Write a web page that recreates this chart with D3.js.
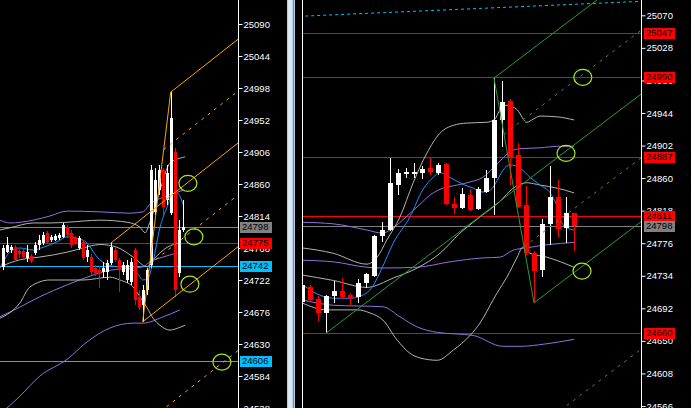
<!DOCTYPE html>
<html><head><meta charset="utf-8">
<script src="https://cdn.jsdelivr.net/npm/d3@7"></script>
<style>body{margin:0;background:#000;overflow:hidden}svg{display:block}</style>
</head><body><svg id="c" width="691" height="408"></svg>
<script>
// ---------- DATA ----------
const leftTicks = [25090,25044,24998,24952,24906,24860,24814,24768,24722,24676,24630,24584,24538];
const rightTicks = [25070,25028,24986,24944,24902,24860,24818,24776,24734,24692,24650,24608,24566];

// [open, high, low, close]
const leftOHLC = [
[24741,24772,24736,24768],[24762,24784,24761,24772],[24765,24772,24761,24769],[24769,24772,24748,24751],
[24764,24767,24754,24759],[24764,24768,24752,24755],[24754,24772,24748,24762],[24757,24759,24746,24749],
[24761,24777,24758,24772],[24772,24787,24765,24780],[24775,24791,24772,24787],[24790,24792,24774,24777],
[24780,24787,24777,24784],[24780,24788,24778,24785],[24782,24790,24780,24787],[24784,24804,24782,24801],
[24798,24801,24782,24787],[24790,24794,24768,24772],[24782,24785,24772,24775],[24768,24785,24765,24782],
[24777,24780,24751,24754],[24755,24772,24748,24765],[24755,24759,24729,24734],[24739,24744,24728,24732],
[24736,24742,24711,24731],[24734,24748,24725,24739],[24734,24751,24722,24746],[24746,24775,24744,24769],
[24765,24768,24748,24751],[24751,24754,24705,24736],[24734,24748,24729,24744],[24722,24751,24718,24744],
[24719,24754,24715,24748],[24765,24768,24686,24693],[24698,24708,24679,24683],[24686,24715,24662,24708],
[24708,24739,24700,24736],[24744,24887,24739,24880],[24820,24883,24815,24866],[24851,24887,24844,24880],
[24880,24883,24815,24827],[24837,24887,24830,24876],[24818,24992,24815,24955],[24906,24912,24698,24707],
[24732,24808,24726,24794],[24794,24837,24791,24798]
];
const rightOHLC = [
[24700,24725,24695,24722],[24720,24722,24701,24703],[24704,24708,24676,24686],[24686,24709,24660,24708],
[24708,24727,24699,24714],[24714,24731,24704,24707],[24709,24712,24695,24705],[24707,24730,24699,24725],
[24725,24737,24718,24736],[24734,24787,24732,24785],[24785,24803,24777,24793],[24793,24886,24792,24854],
[24851,24872,24838,24867],[24865,24873,24860,24868],[24865,24879,24860,24868],[24867,24876,24859,24872],
[24873,24886,24864,24868],[24867,24879,24864,24877],[24878,24879,24825,24827],[24827,24836,24814,24821],
[24821,24847,24820,24839],[24838,24846,24818,24819],[24820,24849,24819,24846],[24842,24870,24841,24860],
[24860,24989,24812,24935],[24935,24985,24900,24958],[24959,24962,24851,24887],[24890,24905,24822,24823],
[24825,24850,24761,24763],[24763,24766,24699,24740],[24741,24807,24732,24801],[24801,24876,24774,24836],
[24836,24858,24784,24794],[24796,24836,24776,24815],[24815,24815,24766,24798]
];

// indicator lines: [bar index, price]
const leftMA = [[-0.7,24739],[1.8,24762],[4.3,24768],[7.6,24765],[10.1,24769],[13.6,24777],[16.1,24784],[18.6,24782],[21.1,24775],[23.6,24755],[26.1,24744],[28.6,24741],[31.1,24739],[33.6,24732],[35.1,24722],[36.3,24724],[37.6,24749],[39.3,24797],[41.1,24827],[42.6,24846],[43.8,24846],[45.1,24830]];
const leftPurpleUp = [[-0.7,24808],[1.8,24804],[7.6,24808],[11.8,24814],[16.1,24821],[24.3,24820],[31.8,24818],[35.1,24820],[36.8,24831],[40.1,24841],[43.6,24848],[45.1,24851]];
const leftPurpleMid = [[-0.7,24669],[4.3,24683],[9.3,24698],[16.1,24715],[21.1,24726],[26.8,24736],[32.6,24739],[35.1,24741],[36.8,24748],[40.1,24755],[44.3,24762]];
const leftPurpleLow = [[-0.7,24529],[4.3,24555],[9.3,24584],[16.1,24608],[21.1,24633],[26.8,24653],[32.6,24660],[35.1,24660],[40.1,24669],[44.3,24679]];
const leftGrayUp = [[-0.7,24794],[1.8,24797],[7.6,24804],[11.8,24804],[16.1,24805],[24.3,24808],[31.1,24805],[34.3,24798],[35.6,24790],[36.8,24805],[39.3,24851],[41.8,24890],[44.3,24897],[45.6,24899]];
const leftGrayMid = [[-0.7,24741],[4.3,24751],[9.3,24755],[16.1,24762],[20.1,24768],[24.3,24773],[28.6,24769],[32.6,24755],[36.1,24741],[37.6,24751],[41.1,24769],[44.3,24775]];
const leftGrayLow = [[-0.7,24667],[4.3,24689],[6.8,24712],[11.8,24722],[20.1,24722],[26.8,24726],[29.3,24722],[32.6,24712],[34.3,24698],[36.1,24682],[37.6,24667],[39.3,24657],[41.8,24650],[44.3,24654],[45.6,24657]];

const rightMA = [[0,24723],[2,24710],[4,24705],[6,24705],[7.6,24709],[8.75,24719],[10,24744],[11.4,24776],[13.5,24810],[15.1,24845],[16.4,24861],[17.25,24867],[18.5,24861],[20.1,24852],[21.4,24847],[22.6,24842],[23.6,24845],[24.4,24857],[25.1,24870],[26,24877],[27.25,24873],[28.5,24861],[29.75,24851],[31,24841],[31.9,24823],[32.5,24802],[33.1,24796],[34,24793]];
const rightPurpleUp = [[0,24803],[3.9,24801],[8.1,24793],[10.1,24789],[11,24793],[12.6,24806],[14.4,24823],[16.4,24841],[17.6,24847],[19.4,24851],[21,24855],[22.6,24861],[23.9,24873],[24.75,24882],[26,24894],[27.25,24898],[29.75,24899],[31.9,24901],[34,24901]];
const rightPurpleMid = [[0,24754],[3.9,24752],[8.1,24745],[10.1,24744],[14.4,24745],[18.5,24752],[22.6,24757],[24.75,24758],[26.4,24767],[28.1,24770],[30.6,24774],[34,24777]];
const rightPurpleLow = [[0,24703],[3.9,24696],[10.1,24694],[12.25,24681],[14.4,24668],[16.9,24661],[21.4,24657],[25.1,24643],[27.25,24643],[30.4,24646],[34,24652]];
const rightGrayUp = [[0,24770],[3.9,24763],[8.1,24749],[9.4,24758],[10.6,24780],[12.25,24810],[13.9,24854],[15.6,24892],[17.25,24918],[18.9,24928],[20.6,24931],[23.1,24932],[24.1,24936],[24.75,24948],[25.6,24954],[26.9,24948],[28.1,24932],[28.9,24936],[29.75,24940],[31.9,24939],[34,24935]];
const rightGrayMid = [[0,24735],[3.9,24728],[8.1,24719],[11.4,24731],[14.4,24744],[17.25,24763],[19.75,24789],[22.25,24810],[24.75,24830],[26.4,24847],[28.1,24854],[29.75,24851],[31.9,24847],[34,24841]];
const rightGrayLow = [[0,24699],[3.1,24690],[6.9,24690],[8.5,24686],[10.1,24677],[11.9,24651],[13.5,24634],[14.75,24628],[16.9,24625],[18.9,24638],[21,24657],[22.25,24673],[23.9,24703],[24.4,24712],[25.6,24732],[26.9,24758],[27.6,24771],[28.5,24763],[30.6,24758],[34,24745]];

// horizontal levels
const leftLevels = [24798, 24775, 24742, 24606];
const leftLevelKinds = ["bid","res","sup","sup"];
const rightLevels = [25047, 24990, 24887, 24811, 24660, 24798];
const rightLevelKinds = ["res","res","res","res","res","bid"];

// pitchfork pivots [bar index, price]
const leftFork = [[27,24775],[35,24662],[42,24992]];
const rightFork = [[3,24660],[24,24989],[29,24699]];

// marker ellipses [bar index, price]
const leftMarks = [[46.3,24861],[47.8,24784],[46.8,24716],[54.8,24604]];
const rightMarks = [[35.1,24990],[33,24892],[35,24740]];

// dashed trendline (right panel)
const rightTrend = [[0.4,25069],[42.4,25088]];

// ---------- DRAW ----------
const svg = d3.select("#c");
svg.append("rect").attr("width",691).attr("height",408).attr("fill","#000");

const COL = {bull:"#ffffff", bear:"#ff0000", ma:"#1e90ff", purple:"#9370db", gray:"#b4b4b4",
  res:"#ff0000", bid:"#808080", sup:"#00bfff", mark:"#a8e61d"};
const FONT = "Liberation Sans, Arial, sans-serif";

const defs = svg.append("defs");
function clip(id,x,w){defs.append("clipPath").attr("id",id).append("rect").attr("x",x).attr("y",0).attr("width",w).attr("height",408);}
clip("cl",0,238); clip("cr",302,339);

function drawPanel(o){
  const {xS,yS,ohlc,bw,clipId,lines,levels,kinds,fork,forkColor,marks,axisX,ticks,x0,x1,boxX,boxW} = o;
  const g = svg.append("g").attr("clip-path",`url(#${clipId})`);
  // levels
  levels.forEach((p,i)=>{
    g.append("line").attr("x1",x0).attr("x2",x1)
      .attr("y1",Math.round(yS(p))+0.5).attr("y2",Math.round(yS(p))+0.5)
      .attr("stroke",COL[kinds[i]]).attr("stroke-width",1).attr("shape-rendering","crispEdges");
  });
  // indicator lines
  const line = d3.line().x(d=>xS(d[0])).y(d=>yS(d[1])).curve(d3.curveMonotoneX);
  lines.forEach(l=>{
    g.append("path").attr("d",line(l.data)).attr("fill","none").attr("stroke",l.color).attr("stroke-width",1);
  });
  // candles
  const cg = g.append("g").attr("shape-rendering","crispEdges");
  ohlc.forEach((d,i)=>{
    const x = Math.round(xS(i));
    const up = d[3] >= d[0];
    const c = up?COL.bull:COL.bear;
    cg.append("line").attr("x1",x+0.5).attr("x2",x+0.5).attr("y1",yS(d[1])).attr("y2",yS(d[2])).attr("stroke",c);
    const yt = yS(Math.max(d[0],d[3])), yb = yS(Math.min(d[0],d[3]));
    cg.append("rect").attr("x",x-Math.floor(bw/2)).attr("width",bw)
      .attr("y",yt).attr("height",Math.max(1,yb-yt)).attr("fill",c);
  });
  // pitchfork
  const [a,b,c] = fork.map(p=>[xS(p[0]),yS(p[1])]);
  const M = [(b[0]+c[0])/2,(b[1]+c[1])/2];
  const s = (M[1]-a[1])/(M[0]-a[0]);
  const med = x => a[1]+s*(x-a[0]);
  const h = c[1]-med(c[0]);
  const fg = g.append("g").attr("stroke",forkColor).attr("fill","none");
  const seg = (x1,y1,x2,y2,dash)=>{const l=fg.append("line").attr("x1",x1).attr("y1",y1).attr("x2",x2).attr("y2",y2);if(dash)l.attr("stroke-dasharray","3,5");};
  const xe = x1+200;
  seg(b[0],b[1],c[0],c[1]);
  seg(a[0],a[1],xe,med(xe));
  seg(c[0],c[1],xe,med(xe)+h);
  seg(b[0],b[1],xe,med(xe)-h);
  const dx=c[0]-b[0], dy=c[1]-b[1];
  [-2,-0.5,0.5,2].forEach(k=>{
    const t=(a[1]+s*(b[0]-a[0])+k*h-b[1])/(dy-s*dx);
    const xs=b[0]+t*dx;
    seg(xs,med(xs)+k*h,xe,med(xe)+k*h,true);
  });
  // marks
  marks.forEach(m=>{
    g.append("ellipse").attr("cx",xS(m[0])).attr("cy",yS(m[1])).attr("rx",9).attr("ry",8)
      .attr("fill","none").attr("stroke",COL.mark).attr("stroke-width",1.2);
  });
  // axis
  svg.append("line").attr("x1",axisX+0.5).attr("x2",axisX+0.5).attr("y1",0).attr("y2",408).attr("stroke","#fff");
  const ax = svg.append("g").attr("transform",`translate(${axisX+0.5},0)`)
    .call(d3.axisRight(yS).tickValues(ticks).tickSize(4).tickPadding(1).tickFormat(d3.format("d")));
  ax.select(".domain").remove();
  ax.selectAll("line").attr("stroke","#fff");
  ax.selectAll("text").attr("fill","#fff").attr("font-family",FONT).attr("font-size","9.5px");
  // level boxes
  levels.forEach((p,i)=>{
    const y=Math.round(yS(p));
    svg.append("rect").attr("x",boxX).attr("y",y-5).attr("width",boxW).attr("height",11).attr("fill",COL[kinds[i]]);
    svg.append("text").attr("x",boxX+2).attr("y",y).attr("dy","0.36em").text(p)
      .attr("fill","#000").attr("font-family",FONT).attr("font-size","9.5px");
  });
}

const xL = d3.scaleLinear().domain([0,45]).range([2.7,182.7]);
const yL = d3.scaleLinear().domain([24538,25090]).range([408,24]);
const xR = d3.scaleLinear().domain([0,34]).range([302,574]);
const yR = d3.scaleLinear().domain([24566,25070]).range([406,15.3]);

drawPanel({xS:xL,yS:yL,ohlc:leftOHLC,bw:3,clipId:"cl",x0:0,x1:238,
  lines:[{data:leftPurpleUp,color:COL.purple},{data:leftPurpleMid,color:COL.purple},{data:leftPurpleLow,color:COL.purple},
         {data:leftGrayUp,color:COL.gray},{data:leftGrayMid,color:COL.gray},{data:leftGrayLow,color:COL.gray},{data:leftMA,color:COL.ma}],
  levels:leftLevels,kinds:leftLevelKinds,fork:leftFork,forkColor:"#ffa500",marks:leftMarks,
  axisX:238,ticks:leftTicks,boxX:240,boxW:32});

// right dashed trend
svg.append("line").attr("clip-path","url(#cr)")
  .attr("x1",xR(rightTrend[0][0])).attr("y1",yR(rightTrend[0][1]))
  .attr("x2",xR(rightTrend[1][0])).attr("y2",yR(rightTrend[1][1]))
  .attr("stroke","#00bfff").attr("stroke-dasharray","3,3");

drawPanel({xS:xR,yS:yR,ohlc:rightOHLC,bw:5,clipId:"cr",x0:302,x1:641,
  lines:[{data:rightPurpleUp,color:COL.purple},{data:rightPurpleMid,color:COL.purple},{data:rightPurpleLow,color:COL.purple},
         {data:rightGrayUp,color:COL.gray},{data:rightGrayMid,color:COL.gray},{data:rightGrayLow,color:COL.gray},{data:rightMA,color:COL.ma}],
  levels:rightLevels,kinds:rightLevelKinds,fork:rightFork,forkColor:"#2e9b2e",marks:rightMarks,
  axisX:641,ticks:rightTicks,boxX:644,boxW:31});

// right panel left border
svg.append("line").attr("x1",302.5).attr("x2",302.5).attr("y1",0).attr("y2",408).attr("stroke","#fff");
// splitter bar
svg.append("rect").attr("x",287).attr("y",0).attr("width",8).attr("height",408).attr("fill","#b9cfe6");
svg.append("rect").attr("x",288).attr("y",0).attr("width",4).attr("height",408).attr("fill","#dbe7f3");
svg.append("rect").attr("x",293).attr("y",0).attr("width",1).attr("height",408).attr("fill","#4a9ae8");
</script></body></html>
